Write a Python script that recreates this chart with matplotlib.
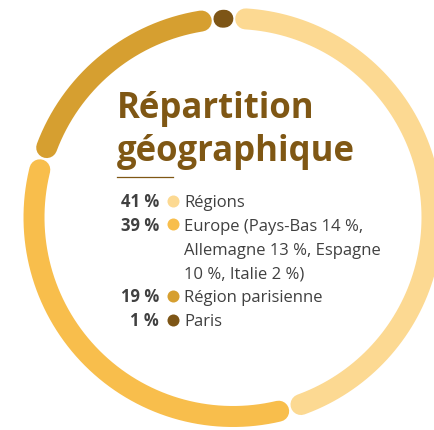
import numpy as np
import matplotlib
matplotlib.use("Agg")
import matplotlib.pyplot as plt

# Données du graphique
categories = ["Régions", "Europe (Pays-Bas 14 %,\nAllemagne 13 %, Espagne\n10 %, Italie 2 %)",
              "Région parisienne", "Paris"]
pourcentages = [41, 39, 19, 1]
# part de l'anneau telle que dessinée dans l'original (en % du tour)
parts_anneau = [45.3, 34.4, 18.6, 1.7]
couleurs = ["#FCD992", "#F8BE4C", "#D69F30", "#7D5516"]

titre = "Répartition\ngéographique"
brun = "#7F5714"
gris = "#404040"

plt.rcParams['font.family'] = ['Open Sans', 'DejaVu Sans']

W, H = 434, 430
fig = plt.figure(figsize=(W / 100, H / 100), dpi=100)
ax = fig.add_axes([0, 0, 1, 1])
ax.set_xlim(0, W)
ax.set_ylim(H, 0)
ax.axis('off')

# Anneau (angles dans le sens horaire depuis le haut)
cx, cy, r = 233, 217.5, 199
ecart = 6.7       # degrés entre deux segments
depart = 0.3
ep = 21 * 72 / 100  # épaisseur en points

angle = depart
for part, coul in zip(parts_anneau, couleurs):
    span = part * 3.6
    a0 = angle + ecart / 2
    a1 = max(angle + span - ecart / 2, a0 + 0.4)
    if a1 - a0 < 1:
        a0 = a1 = angle + span / 2
        a0 -= 0.3
        a1 += 0.3
    t = np.radians(np.linspace(a0, a1, 200))
    ax.plot(cx + r * np.sin(t), cy - r * np.cos(t), color=coul,
            lw=ep if part > 2 else ep * 0.85, solid_capstyle='round')
    angle += span

# Titre
ax.text(117, 118, titre.split("\n")[0], color=brun, fontsize=25, fontweight='bold',
        va='baseline', ha='left')
ax.text(117, 161, titre.split("\n")[1], color=brun, fontsize=25, fontweight='bold',
        va='baseline', ha='left')
ax.plot([117, 173], [177, 177], color=brun, lw=0.9)

# Légende
base = 207
pas = 23.8
for pct, cat, coul in zip(pourcentages, categories, couleurs):
    ax.text(159, base, f"{pct} %", color=gris, fontsize=12, fontweight='bold',
            ha='right', va='baseline')
    ax.scatter([173], [base - 6.5], s=12 ** 2 * 0.52, color=coul, lw=0)
    for ligne in cat.split("\n"):
        ax.text(184, base, ligne, color=gris, fontsize=12, ha='left', va='baseline')
        base += pas

fig.savefig("out.png", dpi=100)
